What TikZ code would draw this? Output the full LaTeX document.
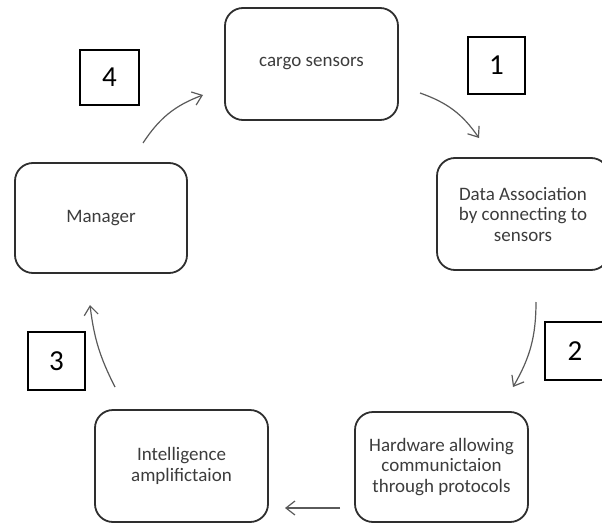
\documentclass[tikz,border=0pt]{standalone}
\usepackage{fontspec}
\setmainfont{Carlito}
\usetikzlibrary{arrows.meta}
\definecolor{boxline}{HTML}{2E2E2E}
\definecolor{boxtext}{HTML}{3C3C3C}
\definecolor{arrowgray}{HTML}{5A5A5A}
\begin{document}
\begin{tikzpicture}[x=1pt,y=1pt,
  stage/.style={draw=boxline,line width=1.8pt,rounded corners=18pt,inner sep=0pt,
    align=center,text=boxtext,font=\fontsize{19}{20.5}\selectfont},
  tag/.style={draw=black,line width=1.5pt,inner sep=0pt,
    font=\fontsize{29}{30}\selectfont},
  flow/.style={draw=arrowgray,line width=1.2pt,
    -{Straight Barb[length=9pt,width=14pt]}}]
\useasboundingbox (0,0) rectangle (602,-524);
\clip (0,0) rectangle (602,-524);

% process stages
\node[stage,minimum width=173pt,minimum height=112pt] (cargo) at (311.5,-64) {cargo sensors};
\node[stage,minimum width=172pt,minimum height=112pt] (assoc) at (523,-214)
  {Data Association\\by connecting to\\sensors};
\node[stage,minimum width=173pt,minimum height=110pt] (hw) at (441.5,-467)
  {Hardware allowing\\communictaion\\through protocols};
\node[stage,minimum width=173pt,minimum height=112pt] (ia) at (181.5,-466)
  {Intelligence\\amplifictaion};
\node[stage,minimum width=172pt,minimum height=110pt] (mgr) at (101,-218) {Manager};

% step numbers
\node[tag,minimum width=57pt,minimum height=57pt] (n1) at (496.5,-65.5) {1};
\node[tag,minimum width=60pt,minimum height=58pt] (n2) at (575,-351) {2};
\node[tag,minimum width=57pt,minimum height=58pt] (n3) at (56.5,-361) {3};
\node[tag,minimum width=59pt,minimum height=55pt] (n4) at (109.5,-77.5) {4};

% arrow end points
\coordinate (a1s) at (420,-93);  \coordinate (a1e) at (479,-138);
\coordinate (a2s) at (536,-302); \coordinate (a2e) at (513,-387);
\coordinate (a3s) at (340,-508); \coordinate (a3e) at (285,-508);
\coordinate (a4s) at (115,-387); \coordinate (a4e) at (90,-305);
\coordinate (a5s) at (143,-143); \coordinate (a5e) at (203,-95);

% cycle arrows
\draw[flow] (a1s) to[bend left=18] (a1e);
\draw[flow] (a2s) to[bend left=15] (a2e);
\draw[flow] (a3s) -- (a3e);
\draw[flow] (a4s) to[bend left=10] (a4e);
\draw[flow] (a5s) to[bend left=18] (a5e);
\end{tikzpicture}
\end{document}
